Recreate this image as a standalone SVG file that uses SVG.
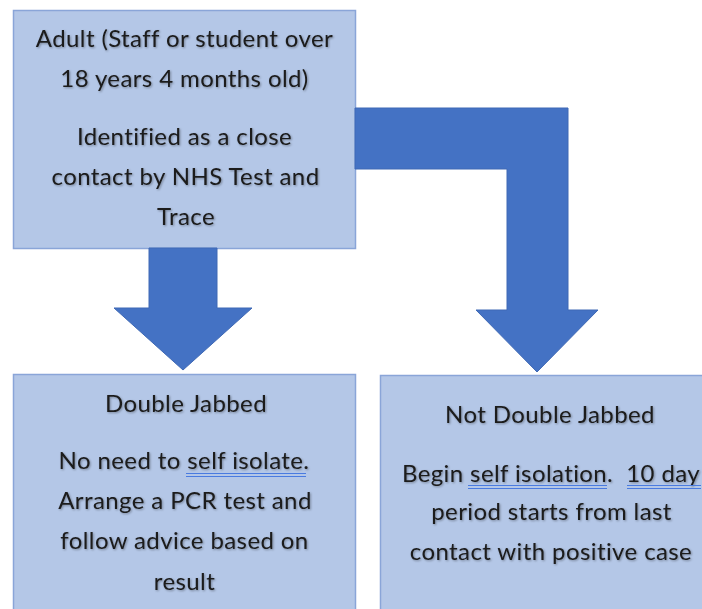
<svg xmlns="http://www.w3.org/2000/svg" width="702" height="609" viewBox="0 0 702 609">
  <defs>
    <filter id="sh" x="-5%" y="-20%" width="110%" height="140%">
      <feDropShadow dx="1" dy="1" stdDeviation="0.8" flood-color="#000" flood-opacity="0.35"/>
    </filter>
  </defs>
  <style>
    .box { fill: #B4C7E7; stroke: #8AA5D8; stroke-width: 1.5; }
    .arrow { fill: #4472C4; stroke: #3F69B5; stroke-width: 1; }
    .t { font-family: Lato, "Liberation Sans", sans-serif; font-size: 24px; letter-spacing: 0.4px; fill: #1A1A1A; text-anchor: middle; filter: url(#sh); }
    .ul { stroke: #4A7BE0; stroke-width: 1.2; fill: none; }
  </style>
  <rect width="702" height="609" fill="#FFFFFF"/>

  <g id="node-adult">
    <rect class="box" x="13.5" y="10.5" width="342" height="238"/>
    <text class="t" x="184.5" y="47">Adult (Staff or student over</text>
    <text class="t" x="184.5" y="87">18 years 4 months old)</text>
    <text class="t" x="184.5" y="145">Identified as a close</text>
    <text class="t" x="185.5" y="185">contact by NHS Test and</text>
    <text class="t" x="186" y="225">Trace</text>
  </g>

  <g id="node-double">
    <rect class="box" x="13.5" y="374.5" width="342" height="250"/>
    <text class="t" x="186" y="412">Double Jabbed</text>
    <text class="t" x="184" y="469">No need to self isolate.</text>
    <text class="t" x="185" y="509">Arrange a PCR test and</text>
    <text class="t" x="184.5" y="549">follow advice based on</text>
    <text class="t" x="184.5" y="590">result</text>
    <line class="ul" x1="186" y1="473.5" x2="306" y2="473.5"/>
    <line class="ul" x1="186" y1="476.5" x2="306" y2="476.5"/>
  </g>

  <g id="node-notdouble">
    <rect class="box" x="380.5" y="375.5" width="342" height="250"/>
    <text class="t" x="550" y="423">Not Double Jabbed</text>
    <text class="t" x="551" y="482" xml:space="preserve">Begin self isolation.  10 day</text>
    <text class="t" x="551.5" y="520">period starts from last</text>
    <text class="t" x="551" y="560">contact with positive case</text>
    <line class="ul" x1="468" y1="485.5" x2="607" y2="485.5"/>
    <line class="ul" x1="468" y1="488.5" x2="607" y2="488.5"/>
    <line class="ul" x1="627" y1="485.5" x2="701" y2="485.5"/>
    <line class="ul" x1="627" y1="488.5" x2="701" y2="488.5"/>
  </g>

  <g id="connectors">
    <polygon class="arrow" points="149,248 217,248 217,308 252,308 183,370 114,308 149,308"/>
    <polygon class="arrow" points="355,108 568,108 568,310 598,310 537,372 476,310 507,310 507,169 355,169"/>
  </g>
</svg>
